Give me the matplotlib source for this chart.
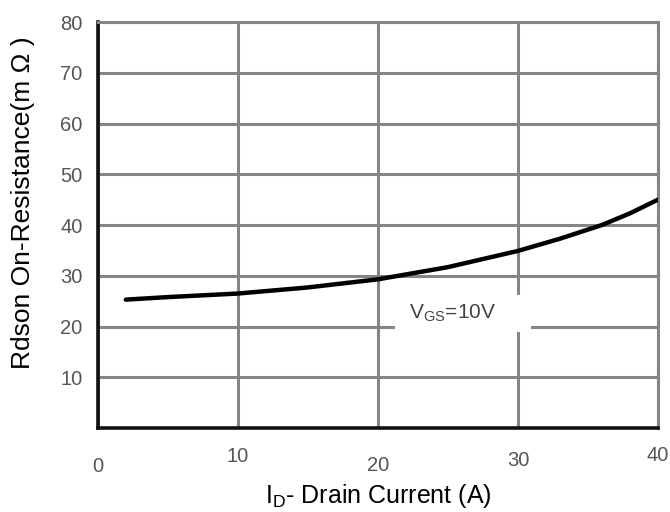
import matplotlib.pyplot as plt
import matplotlib.transforms as mtransforms
from matplotlib.patches import Rectangle

plt.rcParams['font.family'] = ['Liberation Sans', 'DejaVu Sans']

# curve (VGS = 10V)
drain_current = [2, 5, 10, 15, 20, 25, 30, 33, 36, 38, 40]
rdson = [25.3, 25.8, 26.5, 27.7, 29.3, 31.7, 34.9, 37.3, 40.0, 42.3, 45.0]

x_ticks = [0, 10, 20, 30, 40]
y_ticks = [10, 20, 30, 40, 50, 60, 70, 80]
# the x tick labels in the original sit at uneven heights (pixels down)
x_label_drop = [10, 0, 9, 4, -1]

fig = plt.figure(figsize=(6.7, 5.12), dpi=100)
ax = fig.add_axes([0.146, 0.164, 0.836, 0.793])

ax.plot(drain_current, rdson, color='black', lw=3.2, solid_capstyle='round', zorder=3)

ax.set_xlim(0, 40)
ax.set_ylim(0, 80)
ax.set_xticks(x_ticks)
ax.set_yticks(y_ticks)
ax.grid(True, color='#858585', lw=2.2)
ax.set_axisbelow(True)
ax.tick_params(length=0, labelsize=14.5, labelcolor='#555555')
ax.tick_params(axis='x', pad=14)
ax.tick_params(axis='y', pad=11)

for sp in ['top', 'right']:
    ax.spines[sp].set_color('#858585')
    ax.spines[sp].set_linewidth(2.2)
for sp in ['left', 'bottom']:
    ax.spines[sp].set_color('#111111')
    ax.spines[sp].set_linewidth(2.6)

for lab, d in zip(ax.get_xticklabels(), x_label_drop):
    off = mtransforms.ScaledTranslation(0, -d / 100, fig.dpi_scale_trans)
    lab.set_transform(lab.get_transform() + off)

# white patch behind the annotation, cutting the grid lines
ax.add_patch(Rectangle((21.2, 18.9), 9.7, 7.3, facecolor='white',
                       edgecolor='none', zorder=2))
ax.text(25.3, 22.7, r'V$_\mathregular{GS}$=10V', fontsize=15, color='#444444',
        ha='center', va='center', zorder=4)

ax.set_xlabel(r'I$_\mathregular{D}$- Drain Current (A)', fontsize=18, labelpad=4)
ax.set_ylabel('Rdson On-Resistance(m Ω )', fontsize=19)
ax.yaxis.set_label_coords(-0.112, 0.555)

fig.savefig('out.png', dpi=100)
